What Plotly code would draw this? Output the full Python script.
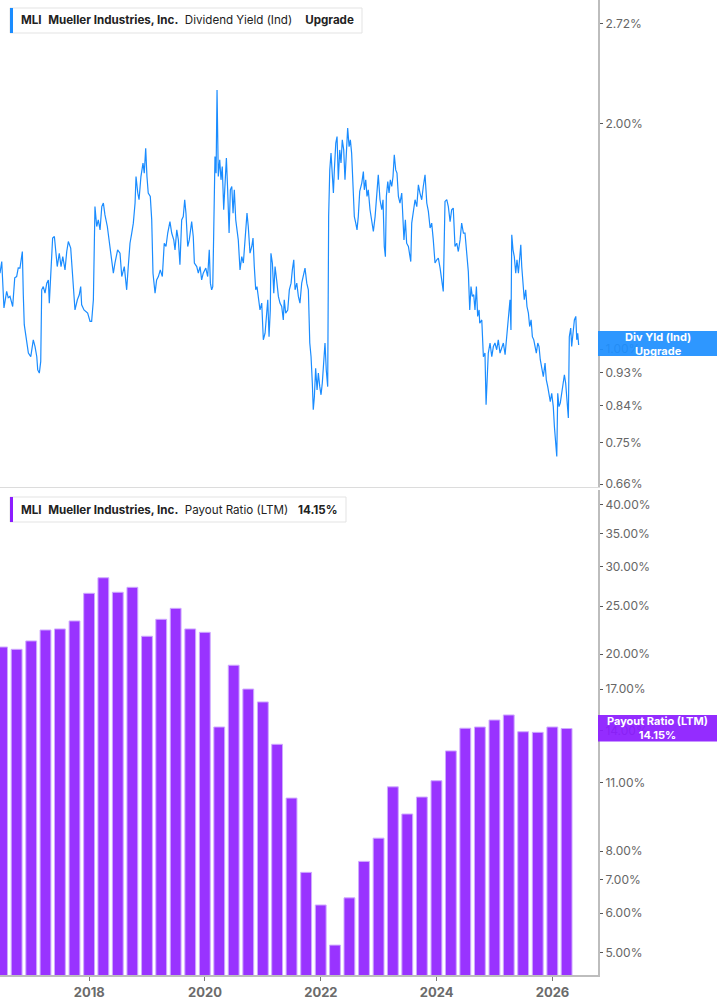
import plotly.graph_objects as go

# ---------------- Data ----------------
dy_dates = [
"2016-06-17","2016-06-28","2016-07-12","2016-07-29","2016-08-08","2016-08-19","2016-09-05","2016-09-18","2016-09-30","2016-10-10",
"2016-10-21","2016-11-01","2016-11-05","2016-11-11","2016-11-17","2016-11-28","2016-12-13","2016-12-28","2017-01-13","2017-01-24",
"2017-02-04","2017-02-10","2017-02-20","2017-03-01","2017-03-07","2017-03-17","2017-03-28","2017-04-08","2017-04-18","2017-04-24",
"2017-05-03","2017-05-15","2017-05-26","2017-06-03","2017-06-13","2017-06-26","2017-07-07","2017-07-18","2017-08-01","2017-08-12",
"2017-08-22","2017-09-06","2017-09-19","2017-10-03","2017-10-18","2017-10-30","2017-11-08","2017-11-14","2017-11-29","2017-12-11",
"2017-12-22","2018-01-06","2018-01-16","2018-01-27","2018-02-06","2018-02-17","2018-02-27","2018-03-10","2018-03-21","2018-03-31",
"2018-04-10","2018-04-25","2018-05-07","2018-05-23","2018-06-02","2018-06-12","2018-06-29","2018-07-14","2018-07-25","2018-08-10",
"2018-08-25","2018-09-04","2018-09-15","2018-09-26","2018-10-06","2018-10-17","2018-10-23","2018-11-03","2018-11-11","2018-11-23",
"2018-12-06","2018-12-14","2018-12-23","2018-12-31","2019-01-08","2019-01-21","2019-01-30","2019-02-07","2019-02-20","2019-03-02",
"2019-03-13","2019-03-25","2019-04-07","2019-04-19","2019-04-30","2019-05-11","2019-05-25","2019-06-05","2019-06-18","2019-06-26",
"2019-07-07","2019-07-17","2019-07-27","2019-08-07","2019-08-17","2019-08-26","2019-09-03","2019-09-14","2019-09-24","2019-10-09",
"2019-10-19","2019-10-26","2019-11-10","2019-11-20","2019-12-01","2019-12-11","2019-12-21","2020-01-06","2020-01-18","2020-01-28",
"2020-02-04","2020-02-12","2020-02-19","2020-02-25","2020-03-04","2020-03-11","2020-03-17","2020-03-25","2020-04-03","2020-04-11",
"2020-04-19","2020-04-28","2020-05-06","2020-05-15","2020-05-23","2020-06-01","2020-06-09","2020-06-18","2020-06-26","2020-07-04",
"2020-07-13","2020-07-21","2020-07-29","2020-08-09","2020-08-20","2020-08-30","2020-09-09","2020-09-22","2020-09-30","2020-10-11",
"2020-10-22","2020-10-30","2020-11-07","2020-11-16","2020-11-24","2020-12-02","2020-12-13","2020-12-24","2021-01-03","2021-01-14",
"2021-01-24","2021-01-31","2021-02-08","2021-02-16","2021-02-20","2021-03-01","2021-03-10","2021-03-18","2021-03-28","2021-04-08",
"2021-04-18","2021-04-29","2021-05-09","2021-05-15","2021-05-24","2021-06-06","2021-06-16","2021-06-27","2021-07-05","2021-07-14",
"2021-07-22","2021-08-02","2021-08-12","2021-08-22","2021-09-02","2021-09-12","2021-09-23","2021-10-04","2021-10-14","2021-10-23",
"2021-10-31","2021-11-08","2021-11-14","2021-11-21","2021-11-29","2021-12-08","2021-12-16","2021-12-25","2022-01-02","2022-01-10",
"2022-01-19","2022-01-27","2022-02-04","2022-02-13","2022-02-19","2022-02-26","2022-03-06","2022-03-14","2022-03-21","2022-03-27",
"2022-04-05","2022-04-13","2022-04-21","2022-04-30","2022-05-08","2022-05-16","2022-05-25","2022-06-02","2022-06-11","2022-06-19",
"2022-06-28","2022-07-06","2022-07-14","2022-07-23","2022-07-31","2022-08-09","2022-08-17","2022-08-25","2022-09-03","2022-09-16",
"2022-09-26","2022-10-02","2022-10-11","2022-10-19","2022-10-27","2022-11-07","2022-11-18","2022-11-28","2022-12-09","2022-12-19",
"2022-12-29","2023-01-09","2023-01-20","2023-01-28","2023-02-05","2023-02-12","2023-02-18","2023-02-27","2023-03-07","2023-03-15",
"2023-03-24","2023-04-01","2023-04-09","2023-04-18","2023-04-26","2023-05-05","2023-05-15","2023-05-26","2023-06-01","2023-06-09",
"2023-06-18","2023-06-26","2023-07-07","2023-07-15","2023-07-22","2023-07-28","2023-08-07","2023-08-18","2023-08-29","2023-09-08",
"2023-09-18","2023-09-29","2023-10-09","2023-10-20","2023-10-31","2023-11-10","2023-11-21","2023-12-01","2023-12-11","2023-12-22",
"2024-01-02","2024-01-12","2024-01-23","2024-02-02","2024-02-12","2024-02-23","2024-03-05","2024-03-15","2024-03-26","2024-04-05",
"2024-04-15","2024-04-26","2024-05-07","2024-05-17","2024-05-28","2024-06-07","2024-06-18","2024-06-28","2024-07-09","2024-07-19",
"2024-07-28","2024-08-05","2024-08-13","2024-08-22","2024-08-30","2024-09-08","2024-09-16","2024-09-25","2024-09-29","2024-10-12",
"2024-10-22","2024-11-01","2024-11-08","2024-11-14","2024-11-22","2024-12-03","2024-12-14","2024-12-24","2025-01-03","2025-01-14",
"2025-01-24","2025-02-04","2025-02-15","2025-02-25","2025-03-08","2025-03-18","2025-03-28","2025-04-08","2025-04-14","2025-04-19",
"2025-04-27","2025-05-05","2025-05-14","2025-05-22","2025-05-31","2025-06-08","2025-06-15","2025-06-21","2025-06-29","2025-07-07",
"2025-07-16","2025-07-24","2025-08-02","2025-08-10","2025-08-19","2025-08-27","2025-09-05","2025-09-13","2025-09-21","2025-09-30",
"2025-10-08","2025-10-16","2025-10-25","2025-11-04","2025-11-15","2025-11-23","2025-12-02","2025-12-10","2025-12-18","2025-12-27",
"2026-01-06","2026-01-13","2026-01-21","2026-01-28","2026-02-03","2026-02-11","2026-02-19","2026-02-28","2026-03-08","2026-03-17",
"2026-03-25","2026-04-03","2026-04-11","2026-04-17","2026-04-26","2026-05-02","2026-05-11","2026-05-19","2026-05-28","2026-06-03",
"2026-06-09","2026-06-15"]

dy_values = [
1.263,1.309,1.135,1.194,1.171,1.176,1.140,1.245,1.250,1.284,
1.283,1.343,1.350,1.182,1.078,1.039,0.988,0.977,1.029,1.008,
0.977,0.938,0.929,0.963,1.200,1.212,1.188,1.225,1.237,1.152,
1.283,1.407,1.414,1.343,1.289,1.343,1.289,1.329,1.276,1.350,
1.392,1.364,1.237,1.128,1.164,1.182,1.212,1.146,1.128,1.123,
1.117,1.089,1.089,1.164,1.550,1.458,1.488,1.443,1.550,1.567,
1.511,1.458,1.385,1.316,1.263,1.303,1.357,1.343,1.250,1.289,
1.200,1.289,1.385,1.429,1.473,1.567,1.700,1.616,1.583,1.700,
1.772,1.718,1.855,1.700,1.616,1.599,1.488,1.263,1.188,1.237,
1.250,1.276,1.250,1.385,1.371,1.429,1.480,1.429,1.399,1.357,
1.443,1.399,1.296,1.488,1.503,1.583,1.519,1.371,1.399,1.480,
1.414,1.303,1.289,1.263,1.289,1.237,1.263,1.283,1.250,1.357,
1.225,1.200,1.212,1.429,1.808,1.718,2.219,1.700,1.790,1.683,
1.753,1.535,1.632,1.799,1.632,1.429,1.632,1.649,1.519,1.632,
1.488,1.429,1.399,1.276,1.329,1.303,1.385,1.519,1.458,1.343,
1.371,1.407,1.289,1.200,1.212,1.176,1.128,1.152,1.029,1.050,
1.128,1.164,1.039,1.128,1.343,1.303,1.188,1.289,1.237,1.176,
1.152,1.140,1.094,1.164,1.117,1.128,1.200,1.225,1.276,1.316,
1.200,1.225,1.176,1.152,1.225,1.250,1.283,1.225,1.200,1.019,
0.977,0.901,0.830,0.864,0.943,0.882,0.929,0.891,0.869,0.901,
0.958,1.019,0.938,0.891,1.503,1.735,1.827,1.735,1.616,1.735,
1.884,1.922,1.683,1.845,1.772,1.903,1.845,1.683,1.884,1.973,
1.864,1.903,1.827,1.616,1.503,1.473,1.443,1.503,1.624,1.666,
1.726,1.632,1.683,1.599,1.632,1.535,1.480,1.436,1.503,1.616,
1.709,1.583,1.535,1.583,1.371,1.329,1.599,1.674,1.616,1.683,
1.649,1.700,1.817,1.735,1.718,1.599,1.567,1.616,1.503,1.399,
1.488,1.385,1.371,1.343,1.309,1.473,1.535,1.583,1.550,1.657,
1.616,1.583,1.649,1.709,1.567,1.527,1.451,1.473,1.399,1.303,
1.316,1.323,1.283,1.244,1.194,1.575,1.583,1.550,1.480,1.535,
1.543,1.371,1.385,1.350,1.399,1.473,1.429,1.429,1.357,1.269,
1.128,1.212,1.176,1.182,1.128,1.212,1.106,1.128,1.083,1.094,
0.977,0.988,0.843,0.901,0.988,1.019,0.977,1.008,1.019,0.998,
1.029,0.988,1.008,1.019,0.983,1.039,1.072,1.164,1.061,1.421,
1.357,1.329,1.263,1.316,1.263,1.316,1.378,1.289,1.212,1.164,
1.200,1.140,1.117,1.072,1.094,1.039,1.029,1.008,0.988,1.019,
1.008,0.968,0.948,0.919,0.958,0.910,0.891,0.873,0.851,0.873,
0.838,0.788,0.741,0.719,0.873,0.838,0.847,0.873,0.910,0.924,
0.901,0.856,0.809,1.039,1.067,1.008,1.050,1.094,1.106,1.029,
1.050,1.013]

pr_dates = [
"2016-06-30","2016-09-30","2016-12-31","2017-03-31","2017-06-30","2017-09-30","2017-12-31","2018-03-31",
"2018-06-30","2018-09-30","2018-12-31","2019-03-31","2019-06-30","2019-09-30","2019-12-31","2020-03-31",
"2020-06-30","2020-09-30","2020-12-31","2021-03-31","2021-06-30","2021-09-30","2021-12-31","2022-03-31",
"2022-06-30","2022-09-30","2022-12-31","2023-03-31","2023-06-30","2023-09-30","2023-12-31","2024-03-31",
"2024-06-30","2024-09-30","2024-12-31","2025-03-31","2025-06-30","2025-09-30","2025-12-31","2026-03-31"]
pr_values = [
20.67,20.45,21.26,22.37,22.48,23.33,26.53,28.52,
26.66,27.28,21.73,23.51,24.74,22.48,22.13,14.25,
18.99,17.00,16.01,13.15,10.24,7.25,6.23,5.17,
6.44,7.63,8.50,10.79,9.51,10.29,11.10,12.75,
14.17,14.25,14.72,15.07,13.94,13.90,14.25,14.15]

dy_ticks = [0.66, 0.75, 0.84, 0.93, 1.00, 2.00, 2.72]
pr_ticks = [5, 6, 7, 8, 11, 14, 17, 20, 25, 30, 35, 40]
year_ticks = ["2018-01-01", "2020-01-01", "2022-01-01", "2024-01-01", "2026-01-01"]
year_labels = ["2018", "2020", "2022", "2024", "2026"]

# ---------------- Layout constants ----------------
W, H = 717, 1005
PLOT_W = 598.0
PLOT_H = 975.0
FONT = "Inter, Roboto, 'Noto Sans', sans-serif"
BLUE = "#1a8cff"
PURPLE = "#9933ff"
LABEL_PURPLE = "#8c1cff"
XRANGE = ["2016-06-17", "2026-10-15"]


def px(xp):
    return xp / PLOT_W


def py(yp):
    return 1 - yp / PLOT_H


fig = go.Figure()

fig.add_trace(go.Scatter(
    x=dy_dates, y=dy_values, mode="lines",
    line=dict(color=BLUE, width=1.2),
    xaxis="x", yaxis="y", showlegend=False, hoverinfo="skip"))

fig.add_trace(go.Bar(
    x=pr_dates, y=pr_values, width=5.9e9,
    marker=dict(color=PURPLE, line=dict(color="#cfaaff", width=1)),
    xaxis="x2", yaxis="y2", showlegend=False, hoverinfo="skip"))

tickfont = dict(family=FONT, size=12, color="#666666")

fig.update_layout(
    width=W, height=H,
    margin=dict(l=0, r=W - PLOT_W, t=0, b=H - PLOT_H),
    paper_bgcolor="white", plot_bgcolor="white",
    showlegend=False,
    xaxis=dict(domain=[0, 1], anchor="y", type="date", range=XRANGE,
               showticklabels=False, ticks="", showgrid=False, zeroline=False,
               showline=True, linecolor="#dcdcdc", linewidth=1),
    yaxis=dict(domain=[py(487), 1], anchor="x", type="log", side="right",
               range=[-0.1841, 0.4662],
               tickvals=dy_ticks, ticktext=[f"{v:.2f}%" for v in dy_ticks],
               ticks="outside", ticklen=3, tickcolor="#555555", tickwidth=1,
               tickfont=tickfont, showgrid=False, zeroline=False,
               showline=True, linecolor="#bdbdbd", linewidth=2),
    xaxis2=dict(domain=[0, 1], anchor="y2", type="date", range=XRANGE,
                tickvals=year_ticks,
                ticktext=[f"<b>{t}</b>" for t in year_labels],
                ticks="outside", ticklen=4, tickcolor="#777777", tickwidth=1,
                tickfont=dict(family=FONT, size=13, color="#6b6b6b"),
                showgrid=False, zeroline=False,
                showline=True, linecolor="#bdbdbd", linewidth=2),
    yaxis2=dict(domain=[0, 1 - 490 / PLOT_H], anchor="x2", type="log", side="right",
                range=[0.65314, 1.6323],
                tickvals=pr_ticks, ticktext=[f"{v:.2f}%" for v in pr_ticks],
                ticks="outside", ticklen=3, tickcolor="#555555", tickwidth=1,
                tickfont=tickfont, showgrid=False, zeroline=False,
                showline=True, linecolor="#bdbdbd", linewidth=2),
)

shapes = []
annotations = []

NB = "&nbsp;"


def legend_box(y_top, x_right, color, text):
    shapes.append(dict(type="rect", xref="paper", yref="paper",
                       x0=px(10), x1=px(x_right), y0=py(y_top + 25), y1=py(y_top),
                       line=dict(color="#e3e3e3", width=1), fillcolor="white", layer="above"))
    shapes.append(dict(type="rect", xref="paper", yref="paper",
                       x0=px(10), x1=px(13), y0=py(y_top + 25), y1=py(y_top),
                       line=dict(width=0), fillcolor=color, layer="above"))
    annotations.append(dict(xref="paper", yref="paper", x=px(19), y=py(y_top + 12.5),
                            xanchor="left", yanchor="middle", showarrow=False,
                            text=text, font=dict(family=FONT, size=11.6, color="#222222")))


legend_box(8, 362, BLUE,
           "<b>MLI</b>" + NB * 2 + "<b>Mueller Industries, Inc.</b>" + NB * 2 +
           "Dividend Yield (Ind)" + NB * 4 + "<b>Upgrade</b>")
legend_box(497, 346, LABEL_PURPLE,
           "<b>MLI</b>" + NB * 2 + "<b>Mueller Industries, Inc.</b>" + NB * 2 +
           "Payout Ratio (LTM)" + NB * 3 + "<b>14.15%</b>")


def value_label(y0p, y1p, color, text):
    shapes.append(dict(type="rect", xref="paper", yref="paper",
                       x0=1, x1=W / PLOT_W, y0=py(y1p), y1=py(y0p),
                       line=dict(width=0), fillcolor=color, opacity=0.93, layer="above"))
    annotations.append(dict(xref="paper", yref="paper", x=(PLOT_W + W) / 2 / PLOT_W,
                            y=py((y0p + y1p) / 2), xanchor="center", yanchor="middle",
                            showarrow=False, text=text, align="center",
                            font=dict(family=FONT, size=11, color="white")))


value_label(331, 356, "#1e8fff", "<b>Div Yld (Ind)</b><br><b>Upgrade</b>")
value_label(715, 741.5, LABEL_PURPLE, "<b>Payout Ratio (LTM)</b><br><b>14.15%</b>")

fig.update_layout(shapes=shapes, annotations=annotations)

fig.write_html("out.html")
